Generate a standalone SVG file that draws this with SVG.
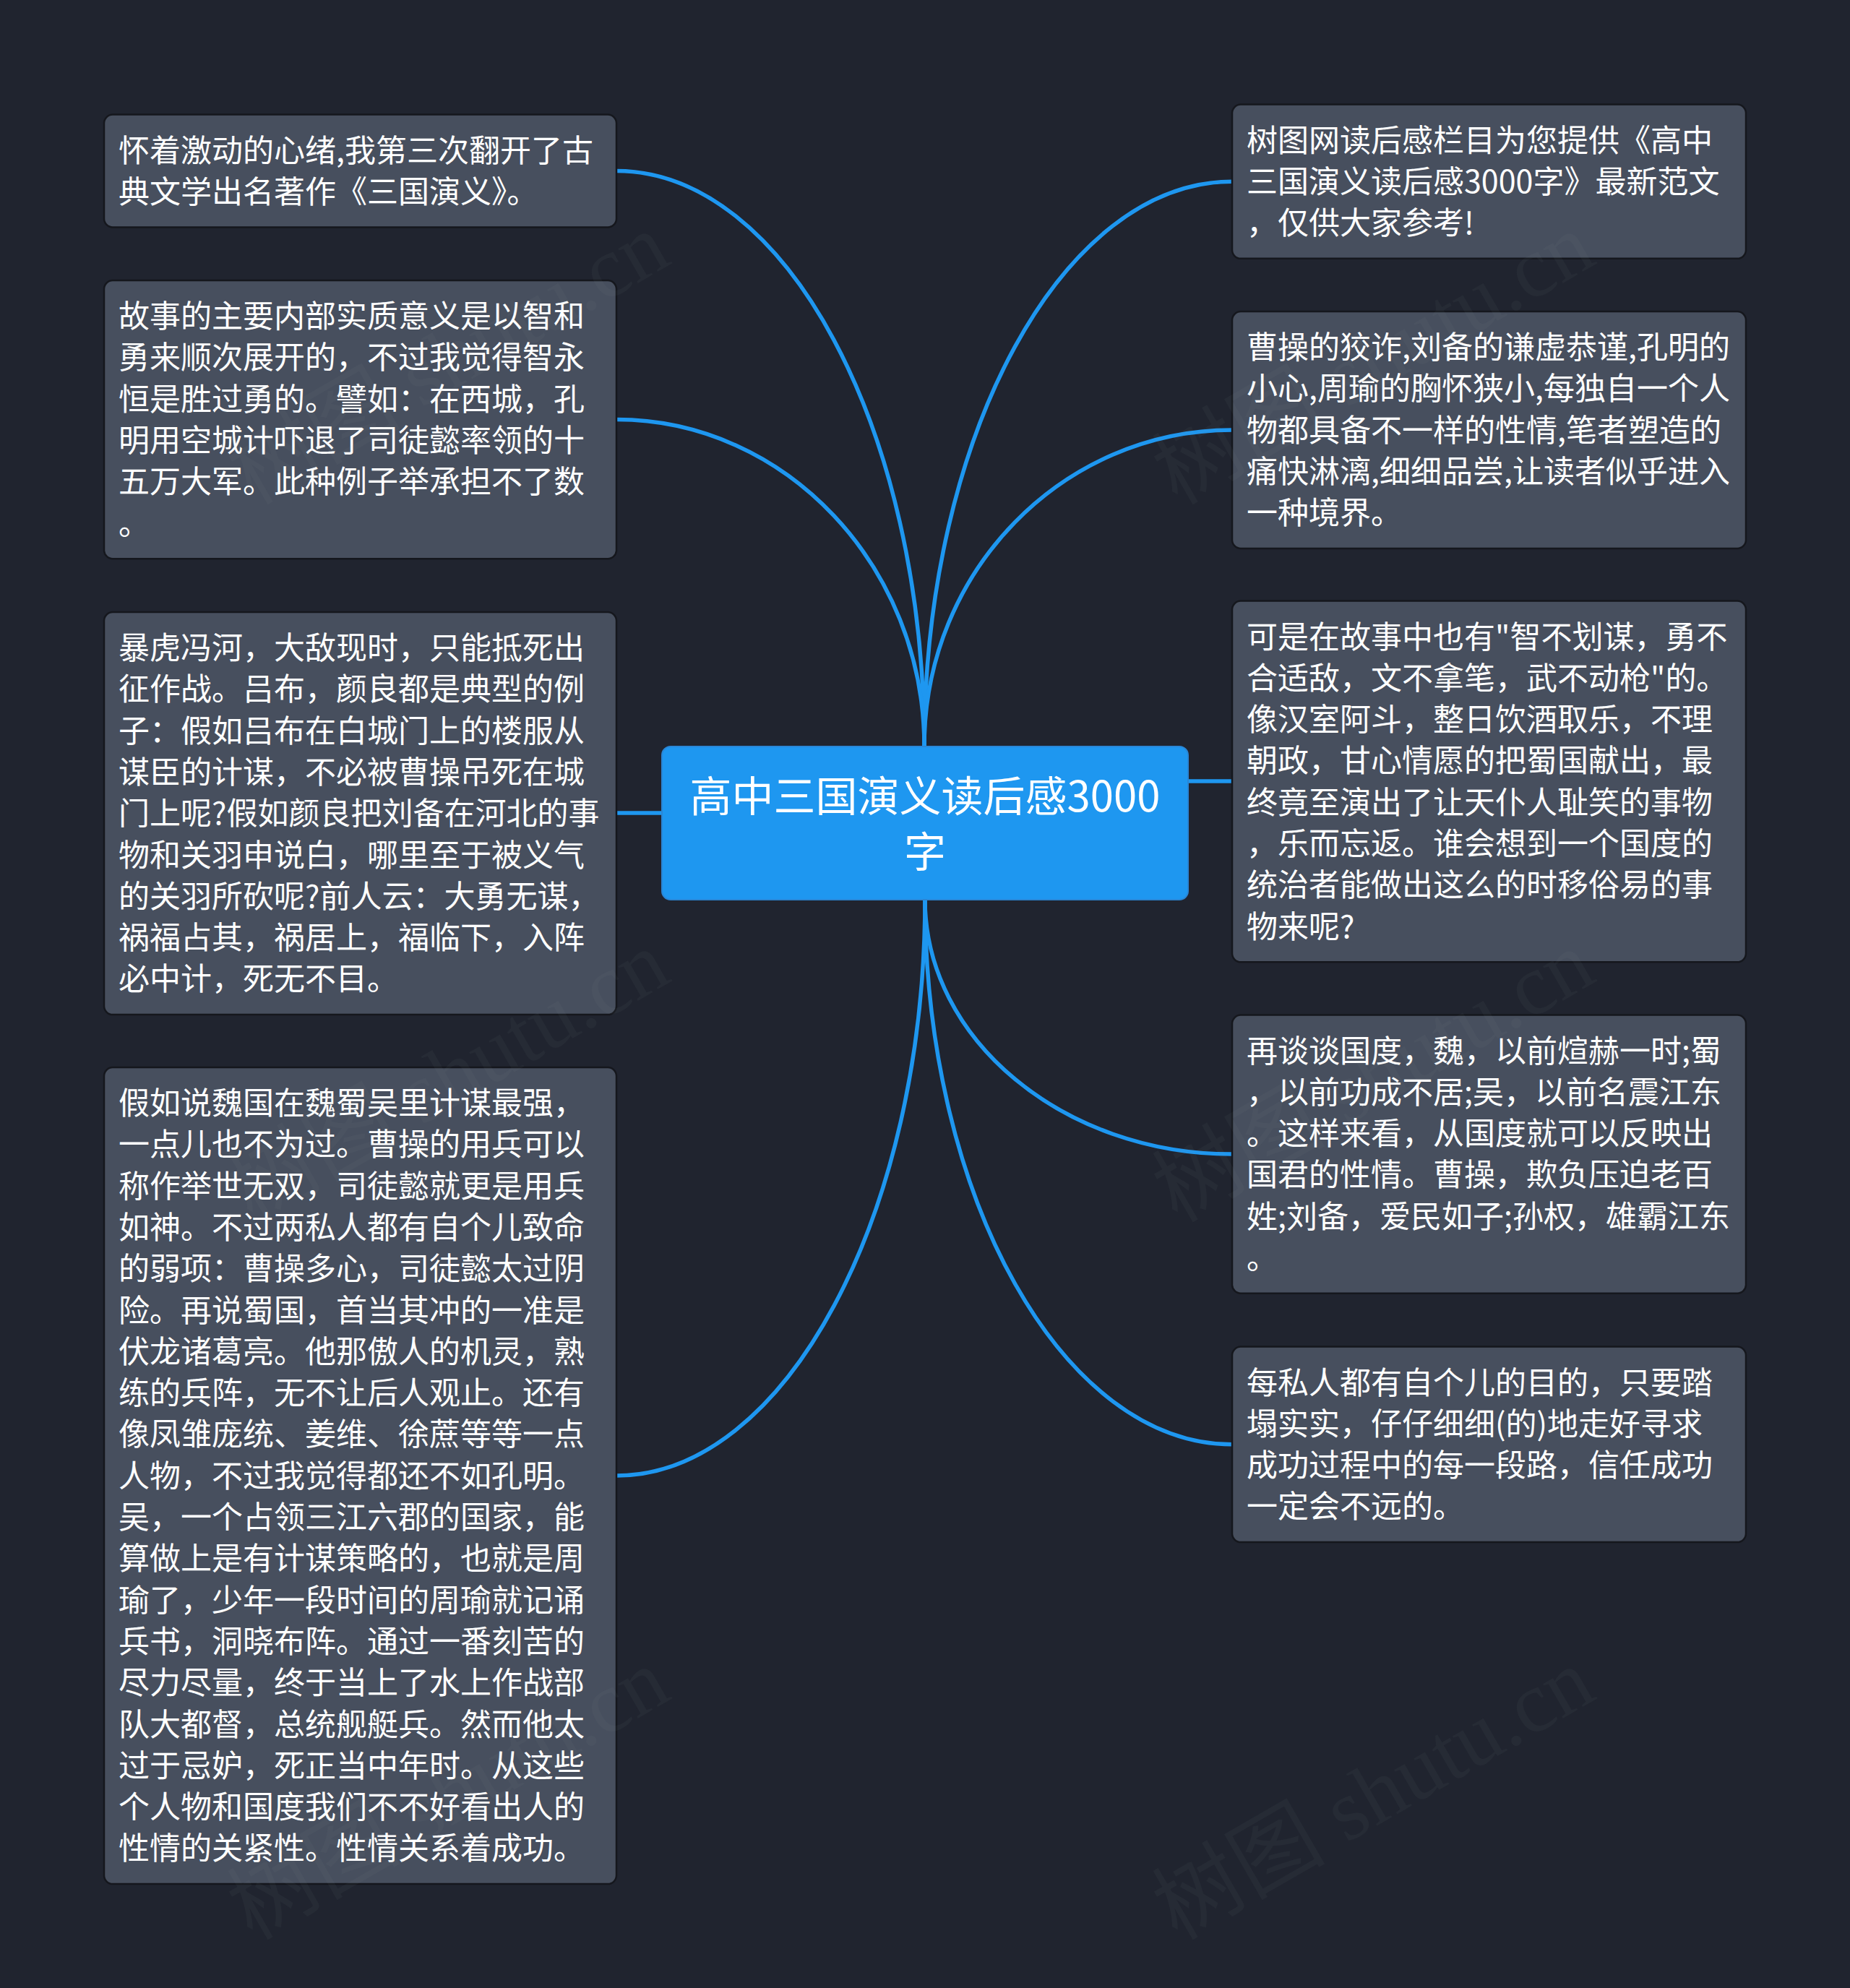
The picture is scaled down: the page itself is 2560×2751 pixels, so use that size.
<svg xmlns="http://www.w3.org/2000/svg" width="2560" height="2751" viewBox="0 0 2560 2751">
<style>
.bg{fill:#20242f}
.box{fill:#474f5e;stroke:#15171d;stroke-width:2.5}
.root{fill:#1e97f0;stroke:#2a86d6;stroke-width:2}
.t{font-family:"Noto Sans CJK SC","Noto Sans",sans-serif;font-size:43px;fill:#ffffff}
.rt{font-family:"Noto Sans CJK SC","Noto Sans",sans-serif;font-size:58px;fill:#ffffff;text-anchor:middle}
.c{fill:none;stroke:#1e97f0;stroke-width:5.5;stroke-linecap:round}
.wm{font-family:"Liberation Serif","Noto Sans CJK SC",serif;font-size:120px;fill:#9aa0a8;fill-opacity:0.055}
</style>
<rect class="bg" x="0" y="0" width="2560" height="2751"/>
<g id="connectors">
<path class="c" d="M853,236.5 C1087,236.5 1279,594 1279,1033"/>
<path class="c" d="M853,580.6 C1087,580.6 1279,784 1279,1033"/>
<path class="c" d="M853,1125 L916,1125"/>
<path class="c" d="M853,2042 C1087,2042 1280,1680 1280,1245"/>
<path class="c" d="M1705,251.2 C1471,251.2 1279,601 1279,1033"/>
<path class="c" d="M1705,595 C1471,595 1279,790 1279,1033"/>
<path class="c" d="M1644,1081 L1705,1081"/>
<path class="c" d="M1705,1597.1 C1471,1597.1 1280,1438 1280,1245"/>
<path class="c" d="M1705,1998.8 C1471,1998.8 1280,1658 1280,1245"/>
</g>
<g id="root">
<rect class="root" x="916" y="1033" width="728" height="212" rx="12"/>
<text class="rt" x="1280" y="1123">高中三国演义读后感3000</text>
<text class="rt" x="1280" y="1200">字</text>
</g>
<g id="n1">
<rect class="box" x="144" y="158.5" width="709" height="156" rx="12"/>
<text class="t" x="164" y="223.5">怀着激动的心绪,我第三次翻开了古</text>
<text class="t" x="164" y="280.8">典文学出名著作《三国演义》。</text>
</g>
<g id="n2">
<rect class="box" x="144" y="388" width="709" height="385.2" rx="12"/>
<text class="t" x="164" y="453">故事的主要内部实质意义是以智和</text>
<text class="t" x="164" y="510.3">勇来顺次展开的，不过我觉得智永</text>
<text class="t" x="164" y="567.6">恒是胜过勇的。譬如：在西城，孔</text>
<text class="t" x="164" y="624.9">明用空城计吓退了司徒懿率领的十</text>
<text class="t" x="164" y="682.2">五万大军。此种例子举承担不了数</text>
<text class="t" x="164" y="739.5">。</text>
</g>
<g id="n3">
<rect class="box" x="144" y="847" width="709" height="557.1" rx="12"/>
<text class="t" x="164" y="912">暴虎冯河，大敌现时，只能抵死出</text>
<text class="t" x="164" y="969.3">征作战。吕布，颜良都是典型的例</text>
<text class="t" x="164" y="1026.6">子：假如吕布在白城门上的楼服从</text>
<text class="t" x="164" y="1083.9">谋臣的计谋，不必被曹操吊死在城</text>
<text class="t" x="164" y="1141.2">门上呢?假如颜良把刘备在河北的事</text>
<text class="t" x="164" y="1198.5">物和关羽申说白，哪里至于被义气</text>
<text class="t" x="164" y="1255.8">的关羽所砍呢?前人云：大勇无谋，</text>
<text class="t" x="164" y="1313.1">祸福占其，祸居上，福临下，入阵</text>
<text class="t" x="164" y="1370.4">必中计，死无不目。</text>
</g>
<g id="n4">
<rect class="box" x="144" y="1477" width="709" height="1130.1" rx="12"/>
<text class="t" x="164" y="1542">假如说魏国在魏蜀吴里计谋最强，</text>
<text class="t" x="164" y="1599.3">一点儿也不为过。曹操的用兵可以</text>
<text class="t" x="164" y="1656.6">称作举世无双，司徒懿就更是用兵</text>
<text class="t" x="164" y="1713.9">如神。不过两私人都有自个儿致命</text>
<text class="t" x="164" y="1771.2">的弱项：曹操多心，司徒懿太过阴</text>
<text class="t" x="164" y="1828.5">险。再说蜀国，首当其冲的一准是</text>
<text class="t" x="164" y="1885.8">伏龙诸葛亮。他那傲人的机灵，熟</text>
<text class="t" x="164" y="1943.1">练的兵阵，无不让后人观止。还有</text>
<text class="t" x="164" y="2000.4">像凤雏庞统、姜维、徐蔗等等一点</text>
<text class="t" x="164" y="2057.7">人物，不过我觉得都还不如孔明。</text>
<text class="t" x="164" y="2115">吴，一个占领三江六郡的国家，能</text>
<text class="t" x="164" y="2172.3">算做上是有计谋策略的，也就是周</text>
<text class="t" x="164" y="2229.6">瑜了，少年一段时间的周瑜就记诵</text>
<text class="t" x="164" y="2286.9">兵书，洞晓布阵。通过一番刻苦的</text>
<text class="t" x="164" y="2344.2">尽力尽量，终于当上了水上作战部</text>
<text class="t" x="164" y="2401.5">队大都督，总统舰艇兵。然而他太</text>
<text class="t" x="164" y="2458.8">过于忌妒，死正当中年时。从这些</text>
<text class="t" x="164" y="2516.1">个人物和国度我们不不好看出人的</text>
<text class="t" x="164" y="2573.4">性情的关紧性。性情关系着成功。</text>
</g>
<g id="r1">
<rect class="box" x="1705" y="144.5" width="711" height="213.3" rx="12"/>
<text class="t" x="1725" y="209.5">树图网读后感栏目为您提供《高中</text>
<text class="t" x="1725" y="266.8">三国演义读后感3000字》最新范文</text>
<text class="t" x="1725" y="324.1">，仅供大家参考!</text>
</g>
<g id="r2">
<rect class="box" x="1705" y="431" width="711" height="327.9" rx="12"/>
<text class="t" x="1725" y="496">曹操的狡诈,刘备的谦虚恭谨,孔明的</text>
<text class="t" x="1725" y="553.3">小心,周瑜的胸怀狭小,每独自一个人</text>
<text class="t" x="1725" y="610.6">物都具备不一样的性情,笔者塑造的</text>
<text class="t" x="1725" y="667.9">痛快淋漓,细细品尝,让读者似乎进入</text>
<text class="t" x="1725" y="725.2">一种境界。</text>
</g>
<g id="r3">
<rect class="box" x="1705" y="831.5" width="711" height="499.8" rx="12"/>
<text class="t" x="1725" y="896.5">可是在故事中也有"智不划谋，勇不</text>
<text class="t" x="1725" y="953.8">合适敌，文不拿笔，武不动枪"的。</text>
<text class="t" x="1725" y="1011.1">像汉室阿斗，整日饮酒取乐，不理</text>
<text class="t" x="1725" y="1068.4">朝政，甘心情愿的把蜀国献出，最</text>
<text class="t" x="1725" y="1125.7">终竟至演出了让天仆人耻笑的事物</text>
<text class="t" x="1725" y="1183">，乐而忘返。谁会想到一个国度的</text>
<text class="t" x="1725" y="1240.3">统治者能做出这么的时移俗易的事</text>
<text class="t" x="1725" y="1297.6">物来呢?</text>
</g>
<g id="r4">
<rect class="box" x="1705" y="1404.5" width="711" height="385.2" rx="12"/>
<text class="t" x="1725" y="1469.5">再谈谈国度，魏，以前煊赫一时;蜀</text>
<text class="t" x="1725" y="1526.8">，以前功成不居;吴，以前名震江东</text>
<text class="t" x="1725" y="1584.1">。这样来看，从国度就可以反映出</text>
<text class="t" x="1725" y="1641.4">国君的性情。曹操，欺负压迫老百</text>
<text class="t" x="1725" y="1698.7">姓;刘备，爱民如子;孙权，雄霸江东</text>
<text class="t" x="1725" y="1756">。</text>
</g>
<g id="r5">
<rect class="box" x="1705" y="1863.5" width="711" height="270.6" rx="12"/>
<text class="t" x="1725" y="1928.5">每私人都有自个儿的目的，只要踏</text>
<text class="t" x="1725" y="1985.8">塌实实，仔仔细细(的)地走好寻求</text>
<text class="t" x="1725" y="2043.1">成功过程中的每一段路，信任成功</text>
<text class="t" x="1725" y="2100.4">一定会不远的。</text>
</g>
<g id="watermark">
<text class="wm" transform="translate(349,700) rotate(-30)">树图 shutu.cn</text>
<text class="wm" transform="translate(1629,700) rotate(-30)">树图 shutu.cn</text>
<text class="wm" transform="translate(349,1693) rotate(-30)">树图 shutu.cn</text>
<text class="wm" transform="translate(1629,1693) rotate(-30)">树图 shutu.cn</text>
<text class="wm" transform="translate(349,2686) rotate(-30)">树图 shutu.cn</text>
<text class="wm" transform="translate(1629,2686) rotate(-30)">树图 shutu.cn</text>
</g>
</svg>
